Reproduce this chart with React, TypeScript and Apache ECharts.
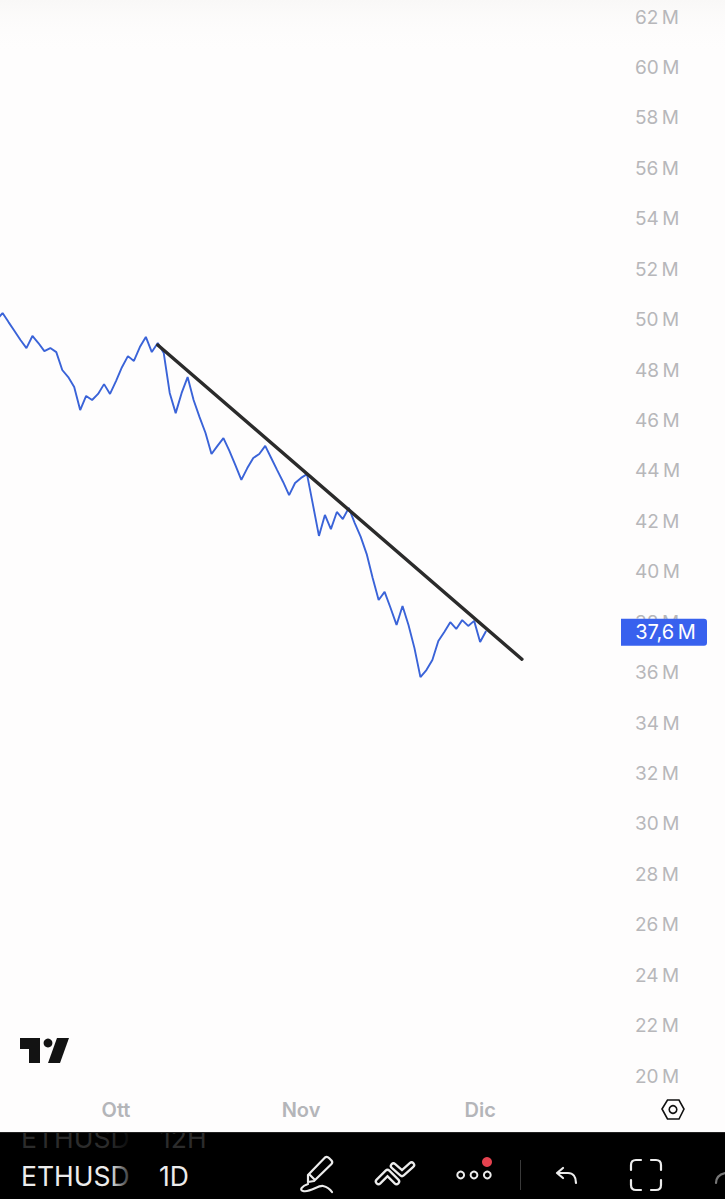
import React, { useEffect, useRef } from "react";
import * as echarts from "echarts";

const firstDay = Date.UTC(2024, 8, 11);
const DAY = 86400000;
const prices = [
  49.98, 50.26, 49.9, 49.55, 49.19, 48.87, 49.35, 49.07, 48.75, 48.87, 48.71, 48.0, 47.72, 47.33, 46.41, 46.97,
  46.81, 47.05, 47.44, 47.05, 47.56, 48.11, 48.55, 48.36, 48.91, 49.31, 48.71, 49.07, 48.67, 47.09, 46.29, 47.09,
  47.72, 46.81, 46.13, 45.5, 44.67, 44.99, 45.3, 44.79, 44.23, 43.64, 44.11, 44.51, 44.67, 44.99, 44.51, 44.03,
  43.56, 43.04, 43.52, 43.72, 43.87, 42.65, 41.42, 42.25, 41.69, 42.37, 42.09, 42.53, 41.93, 41.38, 40.7, 39.75,
  38.88, 39.2, 38.56, 37.89, 38.64, 37.89, 36.97, 35.82, 36.1, 36.5, 37.25, 37.61, 38.0, 37.73, 38.08, 37.85,
  38.05, 37.21, 37.65,
];
const trendDates = [Date.UTC(2024, 9, 8), Date.UTC(2024, 11, 8)];
const trendValues = [48.99, 36.53];
const monthTicks = [Date.UTC(2024, 9, 1), Date.UTC(2024, 10, 1), Date.UTC(2024, 11, 1)];
const monthLabels = ["Ott", "Nov", "Dic"];
const lastPrice = 37.6;
const lastPriceLabel = "37,6\u2009M";
const symbolLabel = "ETHUSD";
const intervalLabel = "1D";
const ghostSymbolLabel = "ETHUSD";
const ghostIntervalLabel = "12H";

const FONT = "Inter, Roboto, sans-serif";
const BG = "#fefdfd";

const reg = (name: string, d: string) => echarts.graphic.registerShape(name, echarts.graphic.extendPath(d, {}));
reg("penBody", "M308,1182 L308,1175 L325,1157.5 Q327,1156 329,1158 L331.5,1160.5 Q333,1162.5 331.5,1164 L314,1181 Z M309,1174 L315,1180");
reg("penLine", "M308,1184 C302,1186 299,1190 303,1191 C310,1193 318,1185 323,1186 C327,1187 330,1189 332,1192");
reg("undoIcon", "M563,1168 L557,1173 L563,1178 M557,1173 L568,1173 C573,1173 576,1177 576,1183");
reg("frameIcon", "M631,1170 V1165 Q631,1160 636,1160 H641 M651,1160 H656 Q661,1160 661,1165 V1170 M661,1180 V1185 Q661,1190 656,1190 H651 M641,1190 H636 Q631,1190 631,1185 V1180");
reg("edgeArc", "M716,1183 Q716,1175 725,1173");

const whiteStroke = { stroke: "#ececec", lineWidth: 2.2, fill: "none", lineCap: "round", lineJoin: "round" };

function zig(points: number[][]) {
  return [
    { type: "polyline", z: 11, shape: { points }, style: { stroke: "#ececec", lineWidth: 7.5, fill: "none", lineCap: "round", lineJoin: "round" } },
    { type: "polyline", z: 12, shape: { points }, style: { stroke: "#000", lineWidth: 3, fill: "none", lineCap: "round", lineJoin: "round" } },
  ];
}

export default function App() {
  const ref = useRef<HTMLDivElement>(null);
  useEffect(() => {
    document.body.style.margin = "0";
    const chart = echarts.init(ref.current!, null, { renderer: "svg" });
    const priceData = prices.map((v, i) => [firstDay + i * DAY, v]);
    const trendData = trendDates.map((d, i) => [d, trendValues[i]]);
    chart.setOption({
      animation: false,
      backgroundColor: BG,
      grid: { left: 0, right: 104, top: 17, bottom: 123, containLabel: false },
      xAxis: {
        type: "value",
        min: monthTicks[0] - 19.43 * DAY,
        max: monthTicks[0] + 84.6 * DAY,
        axisLine: { show: false },
        axisTick: { show: false },
        splitLine: { show: false },
        axisLabel: {
          customValues: monthTicks,
          hideOverlap: false,
          formatter: (v: number) => monthLabels[monthTicks.indexOf(v)] ?? "",
          margin: 24,
          color: "#b4b5b9",
          fontFamily: FONT,
          fontSize: 20,
          fontWeight: 600,
        },
      },
      yAxis: {
        type: "value",
        position: "right",
        min: 20,
        max: 62,
        interval: 2,
        axisLine: { show: false },
        axisTick: { show: false },
        splitLine: { show: false },
        axisLabel: {
          formatter: (v: number) => `${v}\u2009M`,
          margin: 14,
          color: "#b7b7ba",
          fontFamily: FONT,
          fontSize: 19,
          align: "left",
        },
      },
      series: [
        {
          type: "line",
          data: priceData,
          showSymbol: false,
          symbol: "none",
          lineStyle: { color: "#3a63d8", width: 1.9 },
          z: 3,
        },
        {
          type: "line",
          data: trendData,
          showSymbol: false,
          symbol: "none",
          lineStyle: { color: "#2b2b2b", width: 3.4, cap: "round" },
          z: 4,
        },
      ],
    });
    const py = chart.convertToPixel({ yAxisIndex: 0 }, lastPrice) as number;
    chart.setOption({
      graphic: [
        {
          type: "rect",
          z: -1,
          shape: { x: 0, y: 0, width: 725, height: 55 },
          style: {
            fill: new echarts.graphic.LinearGradient(0, 0, 0, 1, [
              { offset: 0, color: "#f9f8f7" },
              { offset: 1, color: "rgba(254,253,253,0)" },
            ]),
          },
        },
        { type: "rect", z: 8, shape: { x: 621, y: py - 13.5, width: 86, height: 27, r: [0, 3, 3, 0] }, style: { fill: "#3861ee" } },
        { type: "text", z: 9, style: { x: 665.5, y: py, text: lastPriceLabel, fill: "#ffffff", font: `20px ${FONT}`, align: "center", verticalAlign: "middle" } },
        // logo
        { type: "polygon", z: 8, shape: { points: [[20, 1038], [40, 1038], [40, 1063], [29, 1063], [29, 1049], [20, 1049]] }, style: { fill: "#131313" } },
        { type: "polygon", z: 8, shape: { points: [[57, 1038], [69, 1038], [60, 1063], [48, 1063]] }, style: { fill: "#131313" } },
        { type: "circle", z: 8, shape: { cx: 48, cy: 1043, r: 4.4 }, style: { fill: "#131313" } },
        // settings hexagon
        { type: "polygon", z: 8, shape: { points: [[662, 1109], [667.5, 1100], [679, 1100], [684, 1109], [679, 1119], [667.5, 1119]] }, style: { fill: "none", stroke: "#111", lineWidth: 1.6 } },
        { type: "circle", z: 8, shape: { cx: 673, cy: 1109.5, r: 3.8 }, style: { fill: "none", stroke: "#111", lineWidth: 1.6 } },
        // toolbar
        { type: "rect", z: 9, shape: { x: 0, y: 1132, width: 725, height: 67 }, style: { fill: "#000" } },
        { type: "text", z: 10, style: { x: 21, y: 1138, text: ghostSymbolLabel, fill: "#2c2c2c", font: `26.5px ${FONT}`, verticalAlign: "middle" } },
        { type: "text", z: 10, style: { x: 160, y: 1138, text: ghostIntervalLabel, fill: "#2c2c2c", font: `26.5px ${FONT}`, verticalAlign: "middle" } },
        { type: "rect", z: 11, shape: { x: 0, y: 1122, width: 725, height: 10 }, style: { fill: BG } },
        { type: "line", z: 11, shape: { x1: 0, y1: 1132.5, x2: 725, y2: 1132.5 }, style: { stroke: "#222", lineWidth: 1 } },
        { type: "text", z: 10, style: { x: 21, y: 1176, text: symbolLabel, fill: "#ececec", font: `26.5px ${FONT}`, verticalAlign: "middle" } },
        { type: "text", z: 12, style: { x: 159, y: 1176, text: intervalLabel, fill: "#ececec", font: `26.5px ${FONT}`, verticalAlign: "middle" } },
        {
          type: "rect",
          z: 11,
          shape: { x: 110, y: 1133, width: 25, height: 60 },
          style: {
            fill: new echarts.graphic.LinearGradient(0, 0, 1, 0, [
              { offset: 0, color: "rgba(0,0,0,0)" },
              { offset: 1, color: "rgba(0,0,0,1)" },
            ]),
          },
        },
        { type: "penBody", z: 12, style: whiteStroke },
        { type: "penLine", z: 12, style: whiteStroke },
        ...zig([[378.5, 1181.5], [387.5, 1172.5], [396.5, 1181.5]]),
        ...zig([[393.5, 1166], [402, 1173.5], [411.5, 1165]]),
        { type: "circle", z: 12, shape: { cx: 460.7, cy: 1175, r: 3.4 }, style: { fill: "none", stroke: "#ececec", lineWidth: 2 } },
        { type: "circle", z: 12, shape: { cx: 474, cy: 1175, r: 3.4 }, style: { fill: "none", stroke: "#ececec", lineWidth: 2 } },
        { type: "circle", z: 12, shape: { cx: 487.3, cy: 1175, r: 3.4 }, style: { fill: "none", stroke: "#ececec", lineWidth: 2 } },
        { type: "circle", z: 13, shape: { cx: 487, cy: 1162, r: 5 }, style: { fill: "#e5424f" } },
        { type: "line", z: 12, shape: { x1: 520.5, y1: 1160, x2: 520.5, y2: 1190 }, style: { stroke: "#3a3a3a", lineWidth: 1 } },
        { type: "undoIcon", z: 12, style: whiteStroke },
        { type: "frameIcon", z: 12, style: whiteStroke },
        { type: "edgeArc", z: 12, style: { ...whiteStroke, stroke: "#777" } },
      ],
    });
    return () => chart.dispose();
  }, []);
  return <div ref={ref} style={{ position: "absolute", left: 0, top: 0, width: 725, height: 1199 }} />;
}
